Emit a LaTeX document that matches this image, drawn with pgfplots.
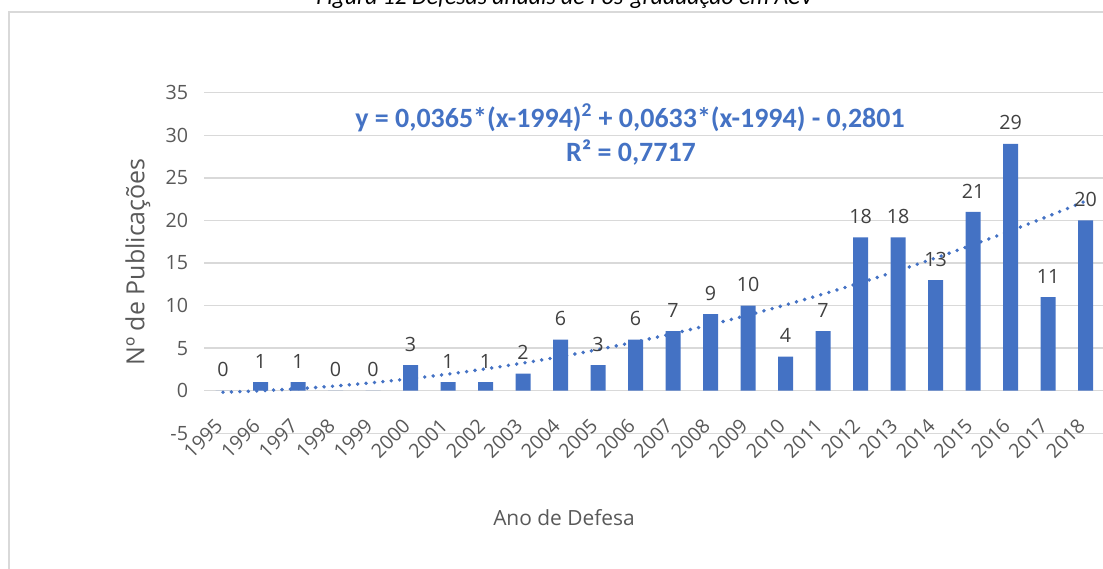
\documentclass[border=0pt]{standalone}
\usepackage{fontspec}
\setmainfont{Carlito}
\newfontfamily\osans{Open Sans}
\usepackage{pgfplots}
\pgfplotsset{compat=1.18}
\definecolor{barblue}{HTML}{4472C4}
\definecolor{gridgray}{HTML}{D9D9D9}
\definecolor{txtgray}{HTML}{595959}
\definecolor{lblgray}{HTML}{404040}
\begin{document}
\begin{tikzpicture}
\useasboundingbox (0,0) rectangle (22.06cm,11.38cm);
% frame
\draw[gridgray, line width=0.04cm] (0.18cm,11.14cm) rectangle (23cm,-1cm);
% title (partially cut off at top)
\node[anchor=base, inner sep=0pt, font=\fontsize{13.5}{16}\selectfont\itshape] at (11.3cm,11.28cm) {Figura 12 Defesas anuais de Pós-graduação em ACV};
\begin{axis}[
  at={(4.085cm,2.714cm)}, anchor=south west,
  scale only axis, width=18cm, height=6.812cm,
  xmin=1994.5, xmax=2018.5, ymin=-5, ymax=35,
  xtick=data, ytick={-5,0,...,35},
  /pgf/number format/assume math mode=true,
  /pgf/number format/1000 sep={},
  axis line style={draw=none}, major tick length=0pt,
  ymajorgrids, major grid style={gridgray, line width=0.03cm},
  ticklabel style={text=txtgray, font=\osans\fontsize{11.2}{13}\selectfont},
  yticklabel style={xshift=-0.2cm},
  xticklabel style={rotate=45, anchor=north east, inner sep=0pt, yshift=0.36cm, xshift=0.1cm},
]
\addplot[ybar, bar width=0.3cm, fill=barblue, draw=none,
  nodes near coords,
  every node near coord/.append style={text=lblgray, font=\osans\fontsize{11.2}{13}\selectfont, yshift=0.15cm}] coordinates {
(1995,0) (1996,1) (1997,1) (1998,0) (1999,0) (2000,3) (2001,1) (2002,1)
(2003,2) (2004,6) (2005,3) (2006,6) (2007,7) (2008,9) (2009,10) (2010,4)
(2011,7) (2012,18) (2013,18) (2014,13) (2015,21) (2016,29) (2017,11) (2018,20)};
\addplot[barblue, line width=2.2pt, line cap=round, dash pattern=on 0pt off 4.8pt, smooth] coordinates {
(1995,-0.1803) (1996,-0.0075) (1997,0.2383) (1998,0.5571) (1999,0.9489) (2000,1.4137)
(2001,1.9515) (2002,2.5623) (2003,3.2461) (2004,4.0029) (2005,4.8327) (2006,5.7355)
(2007,6.7113) (2008,7.7601) (2009,8.8819) (2010,10.0767) (2011,11.3445) (2012,12.6853)
(2013,14.0991) (2014,15.5859) (2015,17.1457) (2016,18.7785) (2017,20.4843) (2018,22.2631)};
\end{axis}
% axis titles
\node[rotate=90, text=txtgray, font=\osans\fontsize{14.2}{16}\selectfont] at (2.76cm,6.14cm) {Nº de Publicações};
\node[anchor=base, text=txtgray, font=\osans\fontsize{11.9}{14}\selectfont] at (11.28cm,0.86cm) {Ano de Defesa};
% trendline equation
\node[anchor=base, text=barblue, font=\fontsize{15.9}{18}\selectfont\bfseries] at (12.6cm,8.82cm) {y = 0,0365*(x-1994)\textsuperscript{2} + 0,0633*(x-1994) - 0,2801};
\node[anchor=base, text=barblue, font=\fontsize{15.9}{18}\selectfont\bfseries] at (12.62cm,8.14cm) {R² = 0,7717};
\end{tikzpicture}
\end{document}
